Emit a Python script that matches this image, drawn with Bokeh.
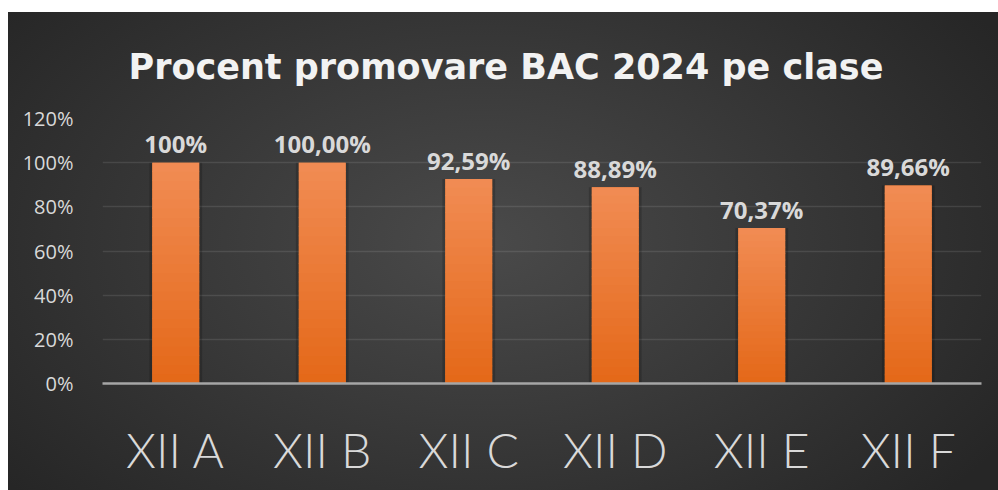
from bokeh.plotting import figure
from bokeh.models import (FactorRange, Range1d, NumeralTickFormatter, FixedTicker,
                          Title, ColumnDataSource, InlineStyleSheet)
from bokeh.core.properties import value
from bokeh.embed import file_html
from bokeh.resources import INLINE

title_text = "Procent promovare BAC 2024 pe clase"
clase = ["XII A", "XII B", "XII C", "XII D", "XII E", "XII F"]
promovare = [1.0, 1.0, 0.9259, 0.8889, 0.7037, 0.8966]
etichete = ["100%", "100,00%", "92,59%", "88,89%", "70,37%", "89,66%"]
y_ticks = [0, 0.2, 0.4, 0.6, 0.8, 1.0, 1.2]

src = ColumnDataSource(dict(cls=clase, val=promovare, lab=etichete))

# gradient slices of each bar (top lighter, bottom darker), computed from the values
n_steps = 24
top_rgb = (241, 140, 84)
bot_rgb = (228, 104, 24)
g_x, g_b, g_t, g_c = [], [], [], []
for c, v in zip(clase, promovare):
    for i in range(n_steps):
        f = (i + 0.5) / n_steps
        col = tuple(round(bot_rgb[k] + (top_rgb[k] - bot_rgb[k]) * f) for k in range(3))
        g_x.append(c)
        g_b.append(v * i / n_steps)
        g_t.append(min(v, v * (i + 1) / n_steps + 0.004))
        g_c.append("#%02x%02x%02x" % col)
grad = ColumnDataSource(dict(x=g_x, b=g_b, t=g_t, c=g_c))

css = InlineStyleSheet(css=""":host {
  background: radial-gradient(ellipse 62% 80% at 48% 48%, #4a4a4a 0%, #3a3a3a 45%, #262626 100%);
}""")

p = figure(width=990, height=478, output_backend="svg", toolbar_location=None,
           x_range=FactorRange(factors=clase, range_padding=0),
           y_range=Range1d(0, 1.2),
           min_border_left=94, min_border_right=17, min_border_top=106, min_border_bottom=107,
           background_fill_color=None, border_fill_color=None, outline_line_color=None,
           margin=(12, 0, 0, 8), stylesheets=[css])

p.title = Title(text=title_text, align="left", offset=26, standoff=60,
                vertical_align="top", text_font="DejaVu Sans", text_font_style="bold",
                text_font_size="35px", text_color="#F2F2F2")

# shadows behind bars
p.vbar(x="cls", top="val", bottom=0, width=0.36, source=src,
       fill_color="black", fill_alpha=0.18, line_color=None)
p.vbar(x="cls", top="val", bottom=0, width=0.32, source=src,
       fill_color="#EE7B30", line_color=None)
p.vbar(x="x", top="t", bottom="b", width=0.32, source=grad,
       fill_color="c", line_color=None)

p.text(x="cls", y="val", text="lab", source=src, text_align="center",
       text_baseline="alphabetic", y_offset=-19,
       text_font=value("Open Sans"), text_font_style="bold",
       text_font_size="24px", text_color="#D9D9D9")

p.xgrid.grid_line_color = None
p.ygrid.ticker = FixedTicker(ticks=y_ticks)
p.ygrid.grid_line_color = "white"
p.ygrid.grid_line_alpha = 0.1
p.ygrid.grid_line_width = 1.5

p.yaxis.ticker = FixedTicker(ticks=y_ticks)
p.yaxis.formatter = NumeralTickFormatter(format="0%")
p.yaxis.axis_line_color = None
p.yaxis.major_tick_line_color = None
p.yaxis.minor_tick_line_color = None
p.yaxis.major_label_text_font = "Open Sans"
p.yaxis.major_label_text_font_size = "20px"
p.yaxis.major_label_text_color = "#D9D9D9"
p.yaxis.major_label_standoff = 23

p.xaxis.axis_line_color = "#A6A6A6"
p.xaxis.axis_line_width = 2.5
p.xaxis.major_tick_line_color = None
p.xaxis.minor_tick_line_color = None
p.xaxis.major_label_text_font = "Lato Light"
p.xaxis.major_label_text_font_size = "48px"
p.xaxis.major_label_text_color = "#D9D9D9"
p.xaxis.major_label_standoff = 31

open("out.html", "w").write(file_html(p, INLINE))
